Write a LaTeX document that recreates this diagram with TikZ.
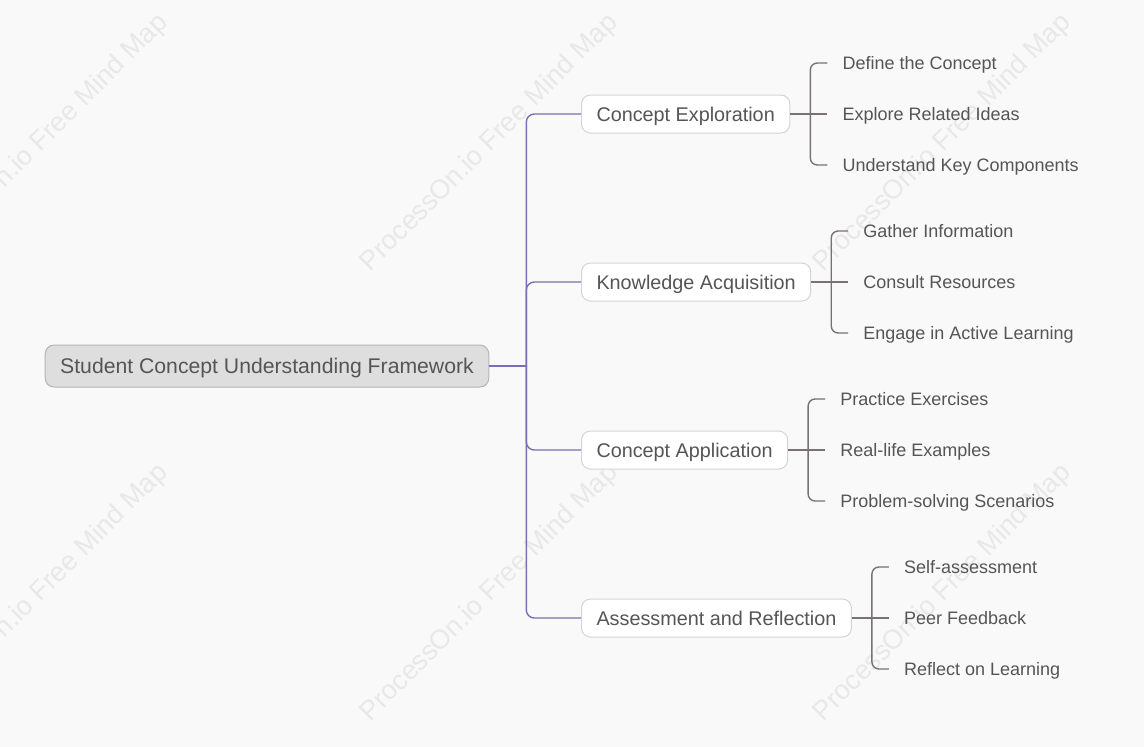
\documentclass[tikz,border=0pt]{standalone}
\usepackage{fontspec}
\setmainfont{Liberation Sans}
\usetikzlibrary{positioning}
\definecolor{pagebg}{HTML}{F9F9F9}
\definecolor{inkgray}{HTML}{555555}
\definecolor{rootfill}{HTML}{DEDEDE}
\definecolor{rootline}{HTML}{B5B5B5}
\definecolor{boxline}{HTML}{D4D4D4}
\definecolor{trunkpurple}{HTML}{7A6FB4}
\definecolor{twiggray}{HTML}{7A7272}
\definecolor{markgray}{HTML}{E8E8E8}

\tikzset{
  rootbox/.style={draw=rootline, fill=rootfill, rounded corners=9pt, line width=1pt,
    minimum height=42pt, inner xsep=15pt, text height=17pt, text depth=2pt,
    text=inkgray, font=\fontsize{21.2}{25}\selectfont},
  topicbox/.style={draw=boxline, fill=white, rounded corners=9pt, line width=1pt,
    minimum height=38pt, inner xsep=15pt, text height=16pt, text depth=2pt,
    anchor=west, text=inkgray, font=\fontsize{19.8}{23}\selectfont},
  leaftext/.style={anchor=west, inner xsep=15pt, inner ysep=0pt, text height=13pt,
    text depth=0pt, text=inkgray, font=\fontsize{18}{22}\selectfont},
  trunk/.style={trunkpurple, line width=1.4pt, rounded corners=8pt},
  twig/.style={twiggray, line width=1.4pt, rounded corners=7pt},
  watermark/.style={rotate=45, text=markgray, font=\fontsize{27}{32}\selectfont},
}

\begin{document}
\begin{tikzpicture}[x=1pt, y=-1pt]
  \useasboundingbox (0,0) rectangle (1144,747);
  \fill[pagebg] (0,0) rectangle (1144,747);

  % watermarks
  \foreach \x/\y [count=\i] in {40/143, 490/143, 943/143, 40/593, 490/593, 943/593}
    \node[watermark] (wm\i) at (\x,\y) {ProcessOn.io Free Mind Map};

  % root and topics
  \node[rootbox] (root) at (267,366) {Student Concept Understanding Framework};
  \node[topicbox] (b1) at (581,114) {Concept Exploration};
  \node[topicbox] (b2) at (581,282) {Knowledge Acquisition};
  \node[topicbox] (b3) at (581,450) {Concept Application};
  \node[topicbox] (b4) at (581,618) {Assessment and Reflection};

  \coordinate (hub) at ([xshift=37pt]root.east);
  \draw[trunk] (root.east) -- (hub);
  \foreach \b in {1,2,3,4}
    \draw[trunk] (hub) |- (b\b.west);

  % leaves
  \coordinate (j1) at ([xshift=20pt]b1.east);
  \node[leaftext] (l11) at ([shift={(17,-51)}]j1) {Define the Concept};
  \node[leaftext] (l12) at ([shift={(17,0)}]j1) {Explore Related Ideas};
  \node[leaftext] (l13) at ([shift={(17,51)}]j1) {Understand Key Components};

  \coordinate (j2) at ([xshift=20pt]b2.east);
  \node[leaftext] (l21) at ([shift={(17,-51)}]j2) {Gather Information};
  \node[leaftext] (l22) at ([shift={(17,0)}]j2) {Consult Resources};
  \node[leaftext] (l23) at ([shift={(17,51)}]j2) {Engage in Active Learning};

  \coordinate (j3) at ([xshift=20pt]b3.east);
  \node[leaftext] (l31) at ([shift={(17,-51)}]j3) {Practice Exercises};
  \node[leaftext] (l32) at ([shift={(17,0)}]j3) {Real-life Examples};
  \node[leaftext] (l33) at ([shift={(17,51)}]j3) {Problem-solving Scenarios};

  \coordinate (j4) at ([xshift=20pt]b4.east);
  \node[leaftext] (l41) at ([shift={(17,-51)}]j4) {Self-assessment};
  \node[leaftext] (l42) at ([shift={(17,0)}]j4) {Peer Feedback};
  \node[leaftext] (l43) at ([shift={(17,51)}]j4) {Reflect on Learning};

  \foreach \b in {1,2,3,4} {
    \draw[twig] (b\b.east) -- (l\b2.west);
    \draw[twig] (j\b) |- (l\b1.west);
    \draw[twig] (j\b) |- (l\b3.west);
  }
\end{tikzpicture}
\end{document}
